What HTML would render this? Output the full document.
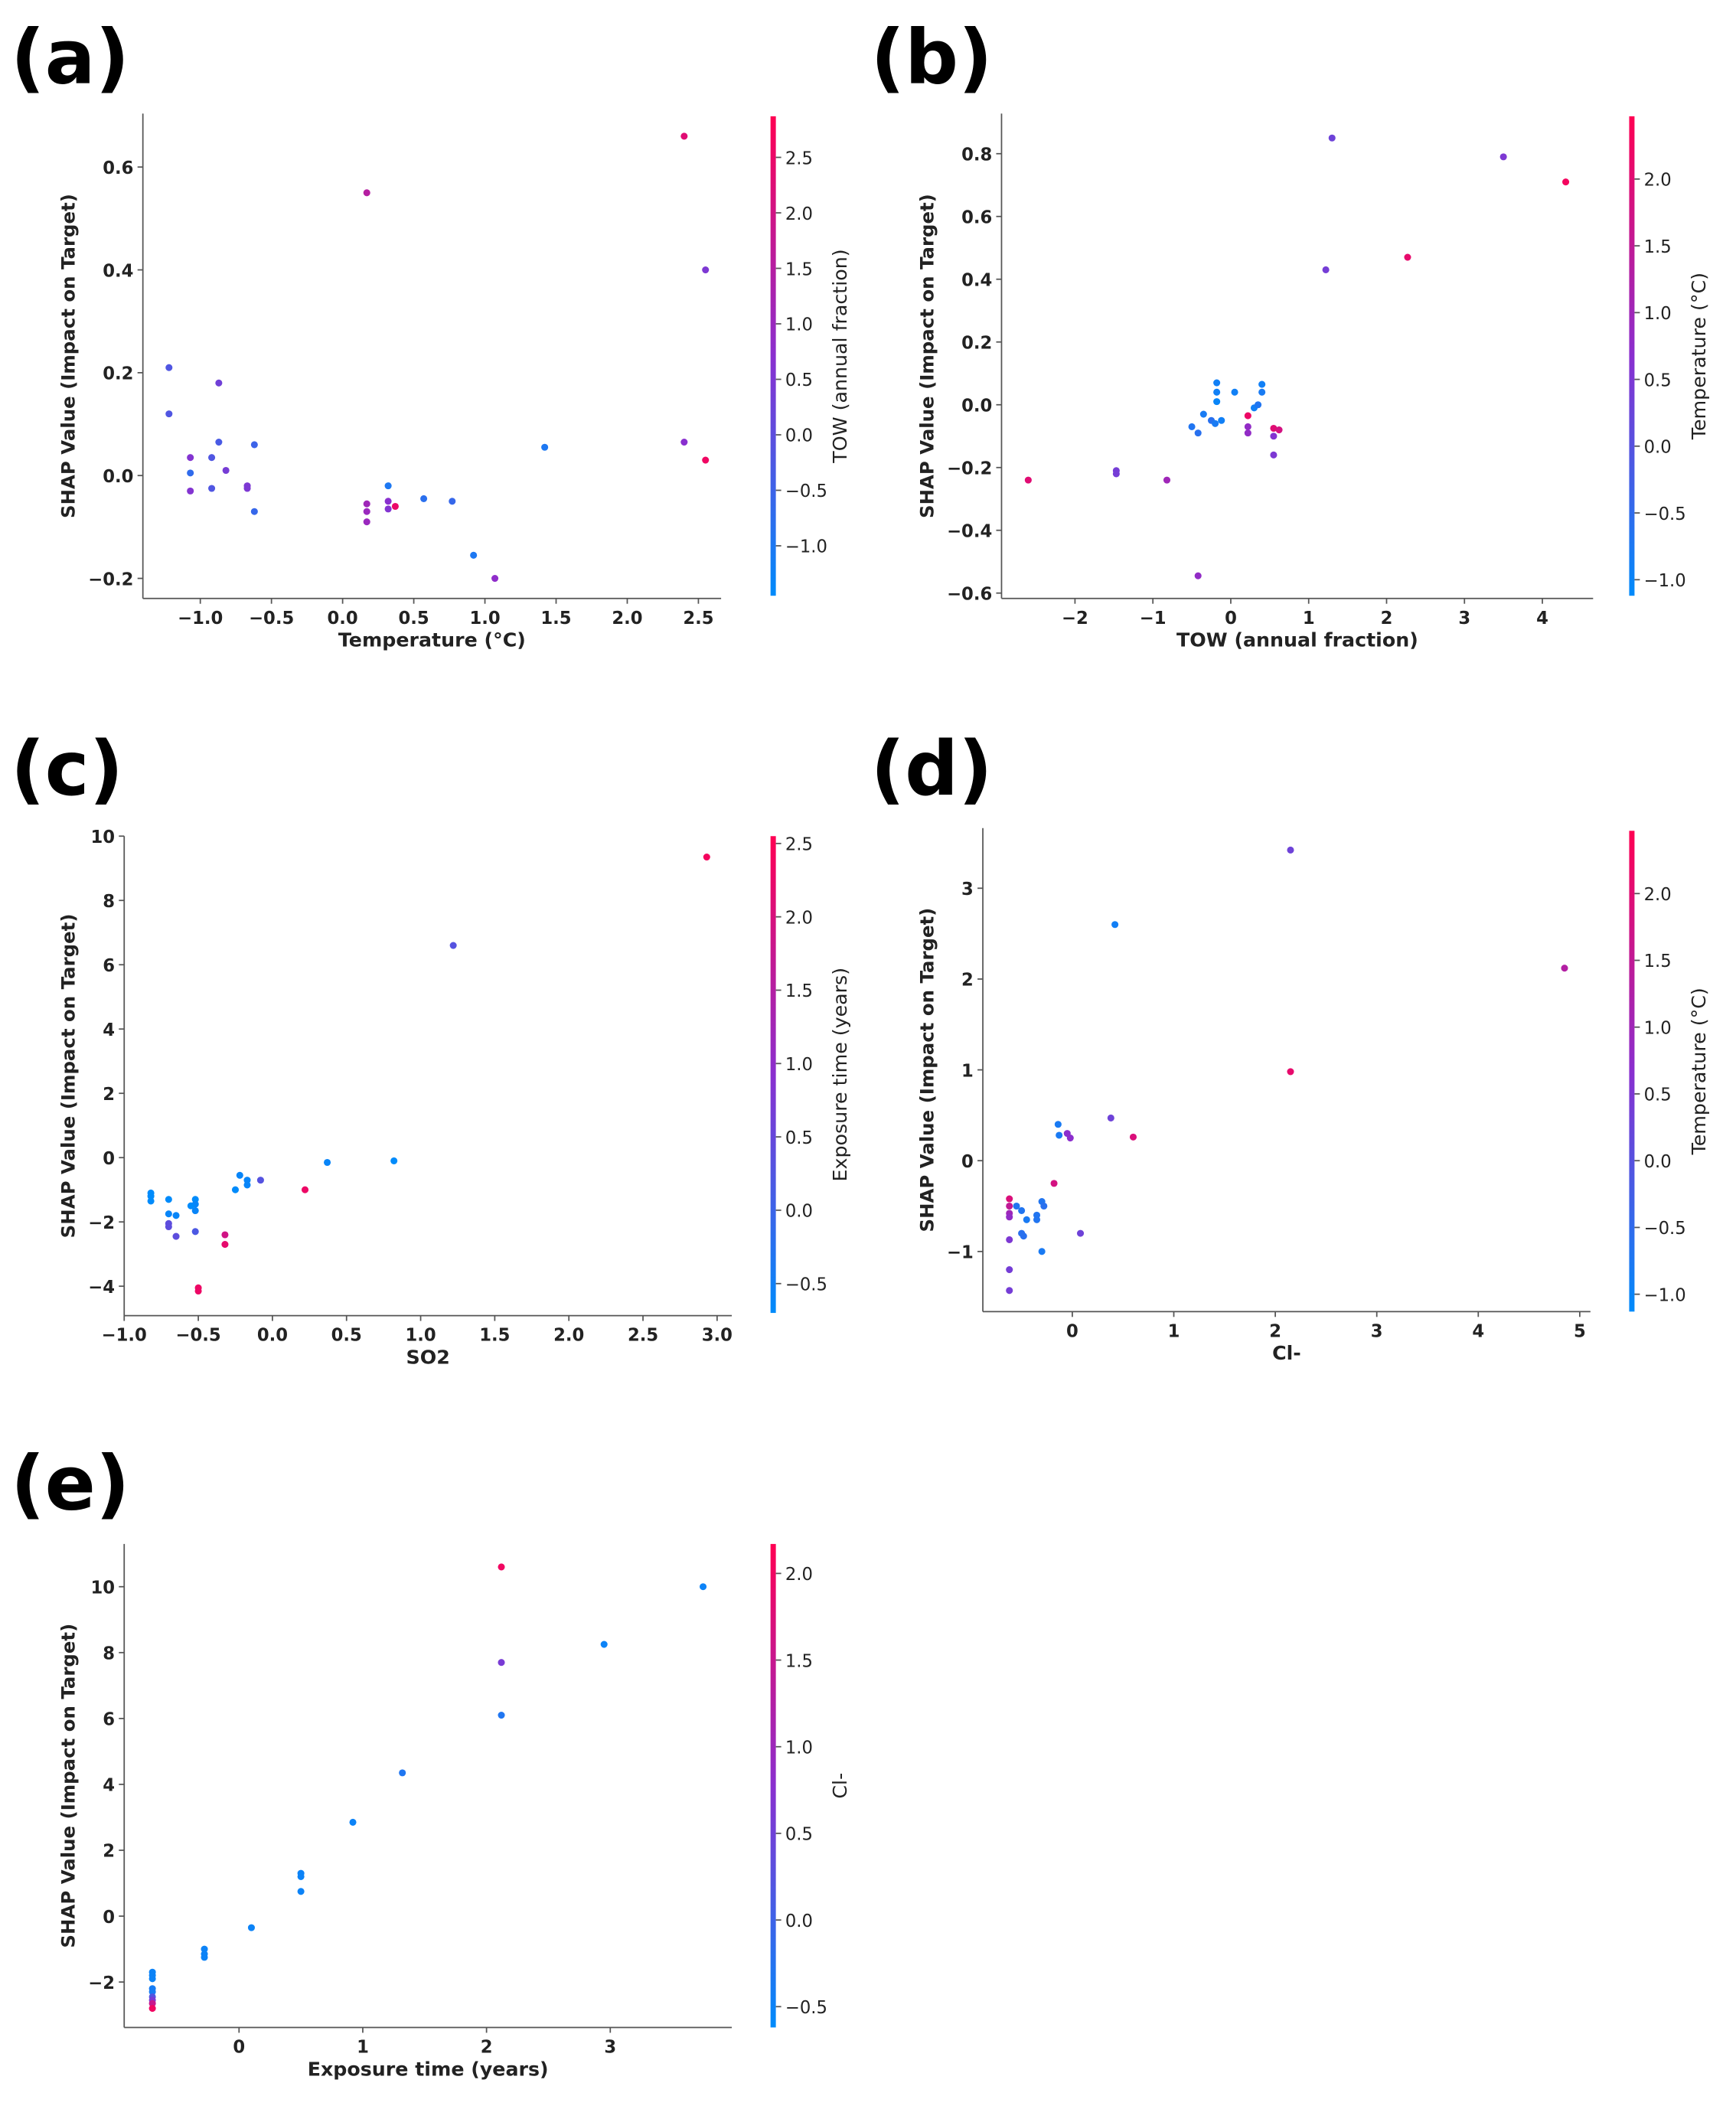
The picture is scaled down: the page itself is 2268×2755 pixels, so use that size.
<!DOCTYPE html>
<html><head><meta charset="utf-8"><style>
html,body{margin:0;padding:0;background:#fff;}
svg{display:block;}
text{font-family:"DejaVu Sans","Liberation Sans",sans-serif;fill:#222;}
text.plabel{fill:#000;}
</style></head><body>
<svg id="fig" width="2268" height="2755" viewBox="0 0 1300 1579" xmlns="http://www.w3.org/2000/svg">
<defs>
<linearGradient id="cb" x1="0" y1="1" x2="0" y2="0">
<stop offset="0" stop-color="#008bfb"/><stop offset="0.5" stop-color="#8a2fcf"/><stop offset="1" stop-color="#ff0052"/>
</linearGradient>
</defs>
</svg>
<script>
// Panel (a)
const aX=[-1.22,-1.22,-0.87,-1.07,-0.92,-0.87,-0.62,-1.07,-0.82,-1.07,-0.92,-0.67,-0.67,-0.62,0.17,0.17,0.17,0.17,0.32,0.32,0.32,0.37,0.57,0.77,0.92,1.07,1.42,2.4,2.55,2.4,2.55];
const aY=[0.21,0.12,0.18,0.035,0.035,0.065,0.06,0.005,0.01,-0.03,-0.025,-0.02,-0.025,-0.07,0.55,-0.055,-0.07,-0.09,-0.02,-0.05,-0.065,-0.06,-0.045,-0.05,-0.155,-0.2,0.055,0.66,0.4,0.065,0.03];
const aC=[-0.2,-0.2,0.3,0.6,-0.2,-0.3,-0.5,-0.7,0.4,0.6,-0.2,0.5,0.5,-0.6,1.5,1.1,1.0,1.0,-1.0,0.7,0.6,2.5,-0.8,-0.6,-1.0,0.8,-1.0,2.3,0.5,0.7,2.6];
const aXTicks=[-1.0,-0.5,0.0,0.5,1.0,1.5,2.0,2.5];
const aYTicks=[-0.2,0.0,0.2,0.4,0.6];
const aCTicks=[-1.0,-0.5,0.0,0.5,1.0,1.5,2.0,2.5];
// Panel (b)
const bX=[-2.6,-1.47,-1.47,-0.82,-0.42,-0.5,-0.42,-0.35,-0.25,-0.18,-0.18,-0.18,-0.12,-0.2,0.05,0.22,0.22,0.22,0.3,0.35,0.4,0.4,0.55,0.55,0.55,0.62,1.22,1.3,2.27,3.5,4.3];
const bY=[-0.24,-0.21,-0.22,-0.24,-0.545,-0.07,-0.09,-0.03,-0.05,0.07,0.04,0.01,-0.05,-0.06,0.04,-0.035,-0.07,-0.09,-0.01,0.0,0.04,0.065,-0.075,-0.1,-0.16,-0.08,0.43,0.85,0.47,0.79,0.71];
const bC=[2.0,0.4,0.4,1.0,0.8,-0.7,-0.6,-0.8,-0.6,-0.9,-0.9,-1.0,-0.9,-0.8,-0.9,2.2,0.8,0.8,-0.9,-0.7,-0.8,-0.9,2.0,0.6,0.5,1.8,0.4,0.3,2.1,0.5,2.3];
const bXTicks=[-2,-1,0,1,2,3,4];
const bYTicks=[-0.6,-0.4,-0.2,0.0,0.2,0.4,0.6,0.8];
const bCTicks=[-1.0,-0.5,0.0,0.5,1.0,1.5,2.0];
// Panel (c)
const cX=[-0.82,-0.82,-0.82,-0.7,-0.7,-0.65,-0.7,-0.7,-0.65,-0.52,-0.52,-0.52,-0.55,-0.52,-0.5,-0.5,-0.32,-0.32,-0.25,-0.22,-0.17,-0.17,-0.08,0.22,0.37,0.82,1.22,2.93];
const cY=[-1.1,-1.2,-1.35,-1.3,-1.75,-1.8,-2.05,-2.15,-2.45,-1.3,-1.45,-1.65,-1.5,-2.3,-4.05,-4.15,-2.4,-2.7,-1.0,-0.55,-0.7,-0.85,-0.7,-1.0,-0.15,-0.1,6.6,9.35];
const cC=[-0.7,-0.7,-0.7,-0.7,-0.6,-0.6,0.4,0.4,0.4,-0.7,-0.6,-0.6,-0.7,0.2,2.3,2.3,1.9,2.2,-0.7,-0.6,-0.6,-0.6,0.3,2.3,-0.6,-0.7,0.3,2.4];
const cXTicks=[-1.0,-0.5,0.0,0.5,1.0,1.5,2.0,2.5,3.0];
const cYTicks=[-4,-2,0,2,4,6,8,10];
const cCTicks=[-0.5,0.0,0.5,1.0,1.5,2.0,2.5];
// Panel (d)
const dX=[-0.62,-0.62,-0.62,-0.62,-0.62,-0.62,-0.62,-0.55,-0.5,-0.5,-0.48,-0.45,-0.35,-0.35,-0.3,-0.28,-0.3,-0.18,-0.14,-0.13,-0.05,-0.02,0.08,0.38,0.42,0.6,2.15,2.15,4.85];
const dY=[-0.42,-0.5,-0.58,-0.62,-0.87,-1.2,-1.43,-0.5,-0.55,-0.8,-0.83,-0.65,-0.6,-0.65,-0.45,-0.5,-1.0,-0.25,0.4,0.28,0.3,0.25,-0.8,0.47,2.6,0.26,3.42,0.98,2.12];
const dC=[1.9,1.5,1.0,0.8,0.5,0.4,0.4,-0.7,-0.7,-0.6,-0.6,-0.8,-0.7,-0.7,-0.7,-0.6,-0.8,1.8,-0.8,-0.8,0.7,0.7,0.3,0.3,-0.9,1.9,0.3,2.1,1.3];
const dXTicks=[0,1,2,3,4,5];
const dYTicks=[-1,0,1,2,3];
const dCTicks=[-1.0,-0.5,0.0,0.5,1.0,1.5,2.0];
// Panel (e)
const eX=[-0.7,-0.7,-0.7,-0.7,-0.7,-0.7,-0.7,-0.7,-0.7,-0.28,-0.28,-0.28,0.1,0.5,0.5,0.5,0.92,1.32,2.12,2.12,2.12,2.95,3.75];
const eY=[-1.7,-1.8,-1.9,-2.2,-2.3,-2.45,-2.55,-2.65,-2.8,-1.0,-1.15,-1.25,-0.35,1.3,1.2,0.75,2.85,4.35,10.6,7.7,6.1,8.25,10.0];
const eC=[-0.5,-0.5,-0.5,-0.4,-0.4,0.2,0.6,1.5,2.0,-0.5,-0.5,-0.5,-0.5,-0.5,-0.5,-0.5,-0.5,-0.3,2.0,0.6,-0.3,-0.5,-0.5];
const eXTicks=[0,1,2,3];
const eYTicks=[-2,0,2,4,6,8,10];
const eCTicks=[-0.5,0.0,0.5,1.0,1.5,2.0];

const NS="http://www.w3.org/2000/svg";
const svg=document.getElementById('fig');
function el(tag,attrs,parent){const e=document.createElementNS(NS,tag);for(const k in attrs)e.setAttribute(k,attrs[k]);(parent||svg).appendChild(e);return e;}
function lin(d0,d1,r0,r1){return v=>r0+(v-d0)*(r1-r0)/(d1-d0);}
function col(t){t=Math.max(0,Math.min(1,t));const s=[[0,139,251],[138,47,207],[255,0,82]];let a,b,u;if(t<0.5){a=s[0];b=s[1];u=t/0.5;}else{a=s[1];b=s[2];u=(t-0.5)/0.5;}return 'rgb('+a.map((v,i)=>Math.round(v+(b[i]-v)*u)).join(',')+')';}
function fmt(v,dec){const s=v.toFixed(dec);return s.replace('-','\u2212');}

function panel(p){
  const g=el('g',{});
  
  
  const L=el('text',{x:p.lx,y:p.ly,'font-size':56,'font-weight':'bold','class':'plabel'},g);
  L.textContent='('+p.id+')';
  
  
  const sx=lin(p.xd[0],p.xd[1],p.xr[0],p.xr[1]);
  const sy=lin(p.yd[0],p.yd[1],p.yr[0],p.yr[1]);
  const ys=el('line',{x1:p.left,y1:p.top,x2:p.left,y2:p.bottom,stroke:'#555','stroke-width':1},g);
  
  
  const xs=el('line',{x1:p.left,y1:p.bottom,x2:p.right,y2:p.bottom,stroke:'#555','stroke-width':1},g);
  
  
  p.xt.forEach(v=>{const x=sx(v);
    el('line',{x1:x,y1:p.bottom,x2:x,y2:p.bottom+4,stroke:'#555'},g);
    const t=el('text',{x:x,y:p.bottom+19,'font-size':13,'font-weight':'bold','text-anchor':'middle'},g);
    t.textContent=fmt(v,p.xdec);
    
    });
  p.yt.forEach(v=>{const y=sy(v);
    el('line',{x1:p.left-4,y1:y,x2:p.left,y2:y,stroke:'#555'},g);
    const t=el('text',{x:p.left-7,y:y+5,'font-size':13,'font-weight':'bold','text-anchor':'end'},g);
    t.textContent=fmt(v,p.ydec);
    
    });
  const xt=el('text',{x:(p.left+p.right)/2,y:p.bottom+36,'font-size':14.5,'font-weight':'bold','text-anchor':'middle'},g);
  xt.textContent=p.xlabel;
  
  
  const yc=(p.top+p.bottom)/2;
  const yt=el('text',{x:p.ytx,y:yc,'font-size':14,'font-weight':'bold','text-anchor':'middle',transform:'rotate(-90 '+p.ytx+' '+yc+')'},g);
  yt.textContent='SHAP Value (Impact on Target)';
  
  
  const sc=lin(p.cd[0],p.cd[1],0,1);
  p.X.forEach((xv,i)=>{const c=el('circle',{cx:sx(xv),cy:sy(p.Y[i]),r:2.6,fill:col(sc(p.C[i]))},g);
    
    });
  const cyScale=lin(p.cd[0],p.cd[1],p.cbBot,p.cbTop);
  const r=el('rect',{x:p.cbx,y:p.cbTop,width:4,height:p.cbBot-p.cbTop,fill:'url(#cb)'},g);
  
  
  p.ct.forEach(v=>{const y=cyScale(v);
    el('line',{x1:p.cbx+4,y1:y,x2:p.cbx+8,y2:y,stroke:'#555'},g);
    const t=el('text',{x:p.cbx+11,y:y+5,'font-size':13},g);
    t.textContent=fmt(v,1);
    
    });
  const cx=p.cbx+57, cyc=(p.cbTop+p.cbBot)/2;
  const ct=el('text',{x:cx,y:cyc,'font-size':14.5,'text-anchor':'middle',transform:'rotate(-90 '+cx+' '+cyc+')'},g);
  ct.textContent=p.clabel;
  
  
}

panel({id:'a',lx:8,ly:62,left:107,right:540,top:85,bottom:448,xd:[-1,2.5],xr:[150,523],yd:[-0.2,0.6],yr:[433,125],
  X:aX,Y:aY,C:aC,xt:aXTicks,yt:aYTicks,ct:aCTicks,xdec:1,ydec:1,cd:[-1.45,2.87],cbx:577,cbTop:87,cbBot:446,
  xlabel:'Temperature (°C)',clabel:'TOW (annual fraction)',ytx:56});
panel({id:'b',lx:652,ly:62,left:750,right:1193,top:85,bottom:448,xd:[-2,4],xr:[805,1155],yd:[-0.6,0.8],yr:[444,115],
  X:bX,Y:bY,C:bC,xt:bXTicks,yt:bYTicks,ct:bCTicks,xdec:0,ydec:1,cd:[-1.12,2.47],cbx:1220,cbTop:87,cbBot:446,
  xlabel:'TOW (annual fraction)',clabel:'Temperature (°C)',ytx:699});
panel({id:'c',lx:8,ly:595,left:93,right:548,top:626,bottom:985,xd:[-1,3],xr:[93,537],yd:[-4,10],yr:[963,626],
  X:cX,Y:cY,C:cC,xt:cXTicks,yt:cYTicks,ct:cCTicks,xdec:1,ydec:0,cd:[-0.7,2.55],cbx:577,cbTop:626,cbBot:983,
  xlabel:'SO2',clabel:'Exposure time (years)',ytx:56});
panel({id:'d',lx:652,ly:595,left:736,right:1191,top:620,bottom:982,xd:[0,5],xr:[803,1183],yd:[-1,3],yr:[937,665],
  X:dX,Y:dY,C:dC,xt:dXTicks,yt:dYTicks,ct:dCTicks,xdec:0,ydec:0,cd:[-1.13,2.47],cbx:1220,cbTop:622,cbBot:982,
  xlabel:'Cl-',clabel:'Temperature (°C)',ytx:699});
panel({id:'e',lx:8,ly:1130,left:93,right:548,top:1156,bottom:1518,xd:[0,3],xr:[179,457],yd:[-2,10],yr:[1484,1188],
  X:eX,Y:eY,C:eC,xt:eXTicks,yt:eYTicks,ct:eCTicks,xdec:0,ydec:0,cd:[-0.62,2.17],cbx:577,cbTop:1156,cbBot:1518,
  xlabel:'Exposure time (years)',clabel:'Cl-',ytx:56});
</script>
</body></html>
